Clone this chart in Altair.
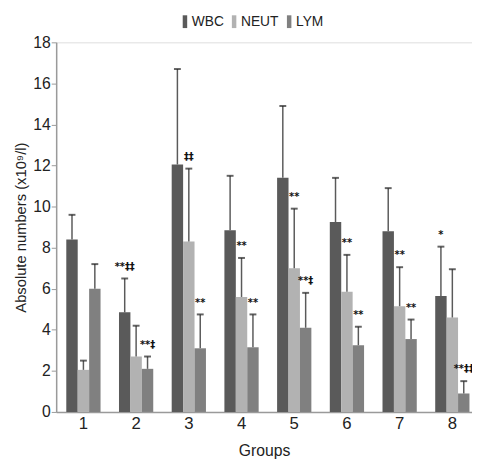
import altair as alt
import pandas as pd

groups = ["1", "2", "3", "4", "5", "6", "7", "8"]
series = ["WBC", "NEUT", "LYM"]
colors = ["#5a5a5a", "#b2b2b2", "#808080"]

wbc = [8.4, 4.85, 12.05, 8.85, 11.4, 9.25, 8.8, 5.65]
wbc_upper = [9.6, 6.5, 16.7, 11.5, 14.9, 11.4, 10.9, 8.05]
neut = [2.05, 2.7, 8.3, 5.6, 7.0, 5.85, 5.15, 4.6]
neut_upper = [2.5, 4.2, 11.85, 7.5, 9.9, 7.65, 7.05, 6.95]
lym = [6.0, 2.1, 3.1, 3.15, 4.1, 3.25, 3.55, 0.9]
lym_upper = [7.2, 2.7, 4.75, 4.75, 5.8, 4.15, 4.5, 1.5]
wbc_marks = ["", "**‡‡", "", "", "", "", "", "*"]
neut_marks = ["", "", "‡‡", "**", "**", "**", "**", ""]
lym_marks = ["", "**‡", "**", "**", "**‡", "**", "**", "**‡‡"]

rows = []
for name, vals, ups, mks in [("WBC", wbc, wbc_upper, wbc_marks),
                             ("NEUT", neut, neut_upper, neut_marks),
                             ("LYM", lym, lym_upper, lym_marks)]:
    for g, v, u, m in zip(groups, vals, ups, mks):
        rows.append({"group": g, "series": name, "value": v, "upper": u, "mark": m})
df = pd.DataFrame(rows)

FONT = "Liberation Sans"

base = alt.Chart(df).encode(
    x=alt.X("group:N", sort=groups,
            scale=alt.Scale(paddingInner=0.35, paddingOuter=0.12, align=0.8),
            axis=alt.Axis(title="Groups", labelAngle=0, ticks=False,
                          labelFontSize=17, labelPadding=4, labelColor="#222",
                          titleFontSize=16, titleFontWeight="normal", titleColor="#222",
                          titlePadding=11, domainColor="#9a9a9a", domainWidth=1.5,
                          labelFont=FONT, titleFont=FONT)),
    xOffset=alt.XOffset("series:N", sort=series,
                        scale=alt.Scale(paddingInner=0, paddingOuter=0)),
)

yscale = alt.Scale(domain=[0, 18], nice=False)

bars = base.mark_bar().encode(
    y=alt.Y("value:Q", scale=yscale,
            axis=alt.Axis(title="Absolute numbers (x10⁹/l)", values=list(range(0, 19, 2)),
                          grid=False, tickSize=5, tickColor="#9a9a9a", domainColor="#9a9a9a",
                          domainWidth=1.5, labelFontSize=16, labelColor="#222", labelPadding=1,
                          titleFontSize=15, titleFontWeight="normal", titleColor="#222",
                          titlePadding=4, labelFont=FONT, titleFont=FONT)),
    color=alt.Color("series:N", sort=series,
                    scale=alt.Scale(domain=series, range=colors),
                    legend=alt.Legend(title=None, orient="none", legendX=124, legendY=-28,
                                      direction="horizontal",
                                      symbolType="M-0.35,-1H0.35V1H-0.35Z", symbolSize=169,
                                      symbolStrokeWidth=0, labelFontSize=14, labelOffset=0,
                                      columnPadding=3, labelColor="#222", labelFont=FONT)),
)

rules = base.mark_rule(color="#5a5a5a", strokeWidth=1.5).encode(
    y=alt.Y("value:Q", scale=yscale), y2="upper:Q")

caps = base.mark_tick(color="#222", thickness=2, size=7, orient="horizontal").encode(
    y=alt.Y("upper:Q", scale=yscale))

texts = base.mark_text(font="DejaVu Sans", fontSize=10, fontWeight="bold", color="#111",
                       baseline="middle", dy=-12).encode(
    y=alt.Y("upper:Q", scale=yscale), text="mark:N")

chart = alt.layer(bars, rules, caps, texts).properties(
    width=423, height=376,
    autosize=alt.AutoSizeParams(type="none"),
    padding={"left": 49, "top": 31, "right": 0, "bottom": 48},
).configure_view(stroke=None).configure(font=FONT)

chart.save("out.html", embed_options={"renderer": "svg", "actions": False})
